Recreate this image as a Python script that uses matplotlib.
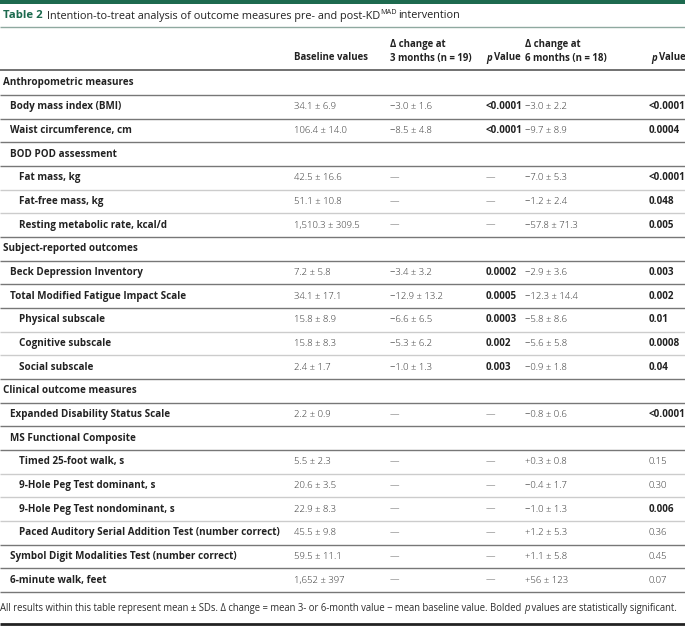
import matplotlib
matplotlib.use("Agg")
import matplotlib.pyplot as plt
from matplotlib.lines import Line2D

plt.rcParams['font.family'] = ['Open Sans', 'DejaVu Sans']

labels = ["Anthropometric measures", "Body mass index (BMI)", "Waist circumference, cm",
          "BOD POD assessment", "Fat mass, kg", "Fat-free mass, kg", "Resting metabolic rate, kcal/d",
          "Subject-reported outcomes", "Beck Depression Inventory", "Total Modified Fatigue Impact Scale",
          "Physical subscale", "Cognitive subscale", "Social subscale",
          "Clinical outcome measures", "Expanded Disability Status Scale", "MS Functional Composite",
          "Timed 25-foot walk, s", "9-Hole Peg Test dominant, s", "9-Hole Peg Test nondominant, s",
          "Paced Auditory Serial Addition Test (number correct)",
          "Symbol Digit Modalities Test (number correct)", "6-minute walk, feet"]
levels = [0, 1, 1, 1, 2, 2, 2, 0, 1, 1, 2, 2, 2, 0, 1, 1, 2, 2, 2, 2, 1, 1]
baseline = ["", "34.1 ± 6.9", "106.4 ± 14.0", "", "42.5 ± 16.6", "51.1 ± 10.8", "1,510.3 ± 309.5",
            "", "7.2 ± 5.8", "34.1 ± 17.1", "15.8 ± 8.9", "15.8 ± 8.3", "2.4 ± 1.7",
            "", "2.2 ± 0.9", "", "5.5 ± 2.3", "20.6 ± 3.5", "22.9 ± 8.3", "45.5 ± 9.8",
            "59.5 ± 11.1", "1,652 ± 397"]
change3 = ["", "−3.0 ± 1.6", "−8.5 ± 4.8", "", "—", "—", "—",
           "", "−3.4 ± 3.2", "−12.9 ± 13.2", "−6.6 ± 6.5", "−5.3 ± 6.2", "−1.0 ± 1.3",
           "", "—", "", "—", "—", "—", "—", "—", "—"]
p3 = ["", "<0.0001", "<0.0001", "", "—", "—", "—",
      "", "0.0002", "0.0005", "0.0003", "0.002", "0.003",
      "", "—", "", "—", "—", "—", "—", "—", "—"]
change6 = ["", "−3.0 ± 2.2", "−9.7 ± 8.9", "", "−7.0 ± 5.3", "−1.2 ± 2.4", "−57.8 ± 71.3",
           "", "−2.9 ± 3.6", "−12.3 ± 14.4", "−5.8 ± 8.6", "−5.6 ± 5.8", "−0.9 ± 1.8",
           "", "−0.8 ± 0.6", "", "+0.3 ± 0.8", "−0.4 ± 1.7", "−1.0 ± 1.3", "+1.2 ± 5.3",
           "+1.1 ± 5.8", "+56 ± 123"]
p6 = ["", "<0.0001", "0.0004", "", "<0.0001", "0.048", "0.005",
      "", "0.003", "0.002", "0.01", "0.0008", "0.04",
      "", "<0.0001", "", "0.15", "0.30", "0.006", "0.36", "0.45", "0.07"]
p6_bold = [False, True, True, False, True, True, True, False, True, True, True, True, True,
           False, True, False, False, False, True, False, False, False]

green = "#1d6a4f"
dark = "#222222"
grey = "#2e2e2e"
fs = 6.8
fl = 7.1

fig = plt.figure(figsize=(6.85, 6.26), dpi=100)
ax = fig.add_axes([0, 0, 1, 1])
ax.set_xlim(0, 685)
ax.set_ylim(626, 0)
ax.axis("off")

def hline(y, color, lw, x0=0, x1=685):
    ax.add_line(Line2D([x0, x1], [y, y], color=color, lw=lw, solid_capstyle="butt"))

def inv(px):
    # display pixel x -> data x
    return ax.transData.inverted().transform((px, 0))[0]

# top band + title
ax.axhspan(0, 4, color=green, lw=0)
r = fig.canvas.get_renderer()
t = ax.text(3, 16, "Table 2", color=green, fontsize=8.2, fontweight="bold", va="center")
x = inv(t.get_window_extent(r).x1) + 4
t = ax.text(x, 16, "Intention-to-treat analysis of outcome measures pre- and post-KD",
            color=dark, fontsize=7.8, va="center")
x = inv(t.get_window_extent(r).x1)
t2 = ax.text(x, 12.5, "MAD", color=dark, fontsize=5.2, va="center")
x = inv(t2.get_window_extent(r).x1) + 2
ax.text(x, 16, "intervention", color=dark, fontsize=7.8, va="center")
hline(27, "#8fa9a0", 1.0)

# header
cols = [294, 390, 486, 525, 649]
hs = 6.9
ax.text(cols[0], 58, "Baseline values", fontsize=hs, fontweight="bold", color=dark, va="center")
ax.text(cols[1], 44, "Δ change at", fontsize=hs, fontweight="bold", color=dark, va="center")
ax.text(cols[1], 58, "3 months (n = 19)", fontsize=hs, fontweight="bold", color=dark, va="center")
ax.text(cols[3], 44, "Δ change at", fontsize=hs, fontweight="bold", color=dark, va="center")
ax.text(cols[3], 58, "6 months (n = 18)", fontsize=hs, fontweight="bold", color=dark, va="center")
for cx in (cols[2], cols[4] + 2):
    t = ax.text(cx, 58, "p", fontsize=hs, fontstyle="italic", fontweight="bold", color=dark, va="center")
    ax.text(inv(t.get_window_extent(r).x1) + 2.5, 58, "Value", fontsize=hs, fontweight="bold",
            color=dark, va="center")
hline(70, "#666666", 1.3)

# body
y0 = 83
dy = 23.67
indent = {0: 3, 1: 10, 2: 19}
n = len(labels)
for i in range(n):
    y = y0 + i * dy
    ax.text(indent[levels[i]], y, labels[i], fontsize=fl, fontweight="bold", color=dark, va="center")
    ax.text(cols[0], y, baseline[i], fontsize=fs, fontweight="light", color=grey, va="center")
    ax.text(cols[1], y, change3[i], fontsize=fs, fontweight="light", color=grey, va="center")
    bold3 = p3[i] not in ("", "—")
    ax.text(cols[2], y, p3[i], fontsize=fl if bold3 else fs, fontweight="bold" if bold3 else "light",
            color=dark if bold3 else grey, va="center")
    ax.text(cols[3], y, change6[i], fontsize=fs, fontweight="light", color=grey, va="center")
    ax.text(cols[4], y, p6[i], fontsize=fl if p6_bold[i] else fs,
            fontweight="bold" if p6_bold[i] else "light",
            color=dark if p6_bold[i] else grey, va="center")
    ly = y + dy / 2
    if i < n - 1 and levels[i] == 2 and levels[i + 1] == 2:
        hline(ly, "#cccccc", 1.0)
    else:
        hline(ly, "#777777", 1.0)

ffs = 6.85
t = ax.text(0, 609, "All results within this table represent mean ± SDs. Δ change = mean 3- or 6-month value − mean baseline value. Bolded ",
            fontsize=ffs, color=grey, va="center")
t = ax.text(inv(t.get_window_extent(r).x1), 609, "p", fontsize=ffs, fontstyle="italic", color=grey, va="center")
ax.text(inv(t.get_window_extent(r).x1), 609, " values are statistically significant.", fontsize=ffs,
        color=grey, va="center")
hline(623.5, "#222222", 2.0)

fig.savefig("out.png", dpi=100)
